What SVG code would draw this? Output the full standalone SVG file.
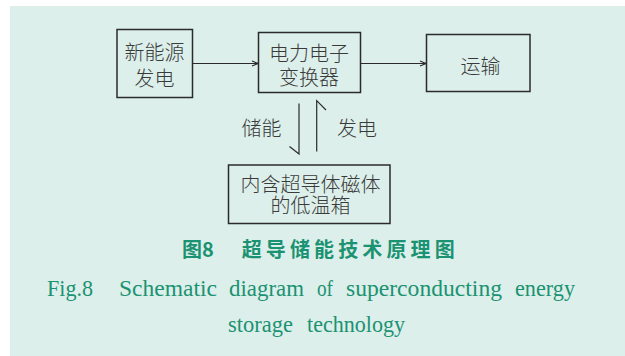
<svg xmlns="http://www.w3.org/2000/svg" width="625" height="356" viewBox="0 0 625 356">
<defs>
<style>
.box{fill:none;stroke:#2b2b2b;stroke-width:1.5}
.lbl{font-family:"Noto Sans CJK SC","Noto Sans",sans-serif;font-size:20px;fill:#3a3a3a;text-anchor:middle;dominant-baseline:central;font-weight:300}
.ln{stroke:#2b2b2b;stroke-width:1.2;fill:none}
.capcn{font-family:"Noto Sans CJK SC",sans-serif;font-size:20px;font-weight:bold;fill:#1b9272}
.capen{font-family:"Liberation Serif",serif;font-size:23px;fill:#1b9272}
</style>
<marker id="ah" markerWidth="8" markerHeight="8" refX="7" refY="4" orient="auto" markerUnits="userSpaceOnUse">
<path d="M1,1.5 L7,4 L1,6.5" fill="none" stroke="#2b2b2b" stroke-width="1.1"/>
</marker>
</defs>
<rect x="0" y="0" width="625" height="356" fill="#ffffff"/>
<rect x="10" y="6" width="615" height="350" fill="#dcefea"/>
<g id="n1">
<rect class="box" x="117" y="29.5" width="75.5" height="68"/>
<text class="lbl"><tspan x="154.5" y="51">新能源</tspan><tspan x="154.5" y="76.5">发电</tspan></text>
</g>
<g id="n2">
<rect class="box" x="258.5" y="32.5" width="102" height="60"/>
<text class="lbl"><tspan x="309" y="51.5">电力电子</tspan><tspan x="309" y="76">变换器</tspan></text>
</g>
<g id="n3">
<rect class="box" x="426.5" y="34.5" width="103.5" height="57"/>
<text class="lbl" x="480.5" y="65">运输</text>
</g>
<g id="n4">
<rect class="box" x="228.5" y="165" width="161.5" height="58.5"/>
<text class="lbl"><tspan x="310.5" y="182.5">内含超导体磁体</tspan><tspan x="310.5" y="204">的低温箱</tspan></text>
</g>
<g id="connectors">
<line class="ln" x1="192.5" y1="63.5" x2="258" y2="63.5" marker-end="url(#ah)"/>
<line class="ln" x1="360.5" y1="63.5" x2="426" y2="63.5" marker-end="url(#ah)"/>
<polyline class="ln" points="299,103.5 299,154 289.5,146.5"/>
<polyline class="ln" points="316.7,151.5 316.7,100.7 326,110"/>
<text class="lbl" x="261.5" y="127">储能</text>
<text class="lbl" x="357" y="127">发电</text>
</g>
<g id="caption">
<text class="capcn" x="182" y="257">图8</text>
<text class="capcn" x="241.7" y="257" textLength="213" lengthAdjust="spacing">超导储能技术原理图</text>
<text class="capen" x="47" y="295.5" textLength="46" lengthAdjust="spacingAndGlyphs">Fig.8</text>
<text class="capen" x="119" y="295.5" textLength="98" lengthAdjust="spacingAndGlyphs">Schematic</text>
<text class="capen" x="229" y="295.5" textLength="75" lengthAdjust="spacingAndGlyphs">diagram</text>
<text class="capen" x="317" y="295.5" textLength="16" lengthAdjust="spacingAndGlyphs">of</text>
<text class="capen" x="346" y="295.5" textLength="156" lengthAdjust="spacingAndGlyphs">superconducting</text>
<text class="capen" x="515" y="295.5" textLength="60" lengthAdjust="spacingAndGlyphs">energy</text>
<text class="capen" x="228" y="331.5" textLength="65" lengthAdjust="spacingAndGlyphs">storage</text>
<text class="capen" x="307" y="331.5" textLength="98" lengthAdjust="spacingAndGlyphs">technology</text>
</g>
</svg>
